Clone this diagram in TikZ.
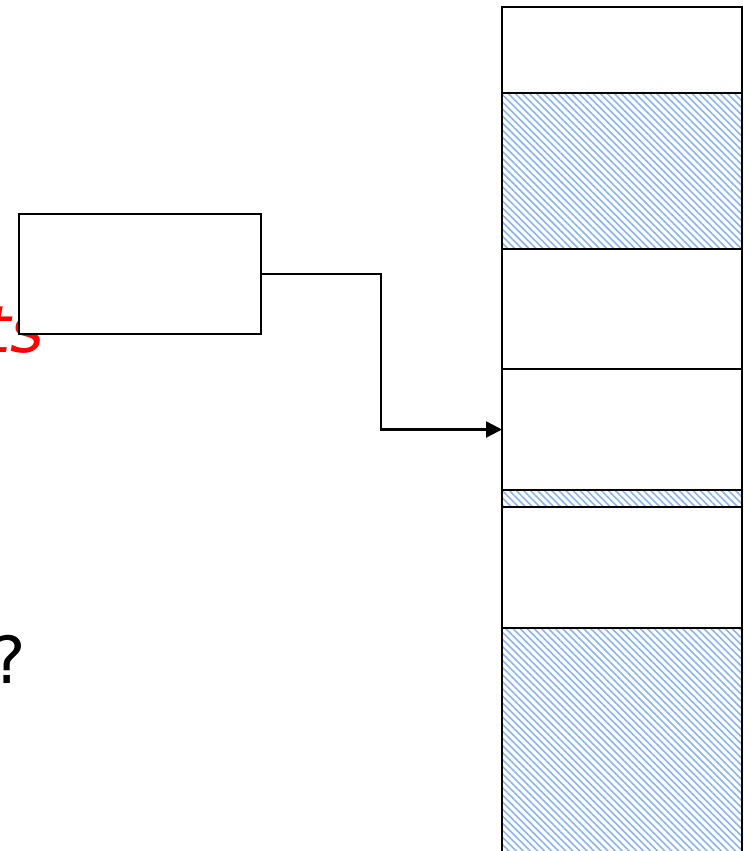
\documentclass[tikz,border=0pt]{standalone}
\usepackage{fontspec}
\setmainfont{DejaVu Sans}
\usetikzlibrary{patterns.meta,arrows.meta}
\definecolor{hatchblue}{RGB}{140,180,235}
\definecolor{txtred}{RGB}{255,0,0}
\tikzset{
  seg/.style={draw=black, line width=2.4pt, fill=white, anchor=north west, inner sep=0pt, outer sep=0pt, minimum width=240pt},
  hatched/.style={seg, pattern={Lines[angle=-45,distance=5pt,line width=1.6pt]}, pattern color=hatchblue},
  blockbox/.style={draw=black, line width=2.4pt, fill=white, anchor=north west, inner sep=0pt, outer sep=0pt, minimum width=242pt, minimum height=120pt},
  conn/.style={draw=black, line width=2.4pt, -{Triangle[length=16pt,width=16pt]}},
  bigtext/.style={font=\fontsize{65}{70}\selectfont, inner sep=0pt, anchor=base east}
}
\begin{document}
\begin{tikzpicture}[x=1pt,y=-1pt]
\useasboundingbox (0,0) rectangle (751,851);
\clip (0,0) rectangle (751,851);
% texts
\node[bigtext, text=txtred] (lbl) at (45,352) {\itshape ts};
\node[bigtext] (q) at (26,683) {?};
% column of segments
\node[seg, minimum height=86pt] (s1) at (502,7) {};
\node[hatched, minimum height=156pt] (s2) at (502,93) {};
\node[seg, minimum height=120pt] (s3) at (502,249) {};
\node[seg, minimum height=121pt] (s4) at (502,369) {};
\node[hatched, minimum height=17pt] (s5) at (502,490) {};
\node[seg, minimum height=121pt] (s6) at (502,507) {};
\node[hatched, minimum height=260pt] (s7) at (502,628) {};
% box
\node[blockbox] (box) at (19,214) {};
% connector
\draw[conn] (box.east) -- ++(120,0) |- (s4.west);
\end{tikzpicture}
\end{document}
